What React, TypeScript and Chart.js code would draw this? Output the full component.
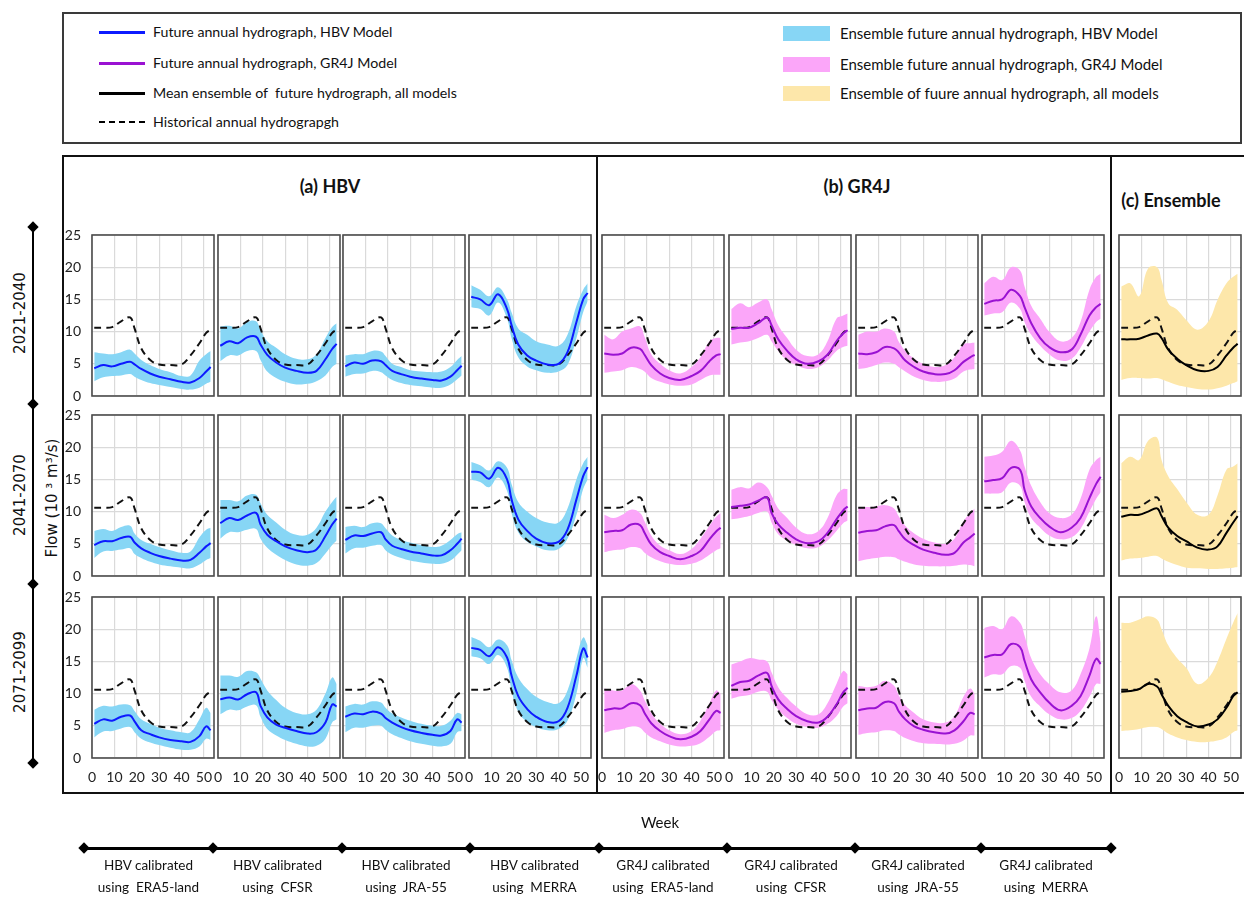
import React, { useEffect, useRef } from "react";
import { Chart, registerables } from "chart.js";
Chart.register(...registerables);

// ---------------- DATA ----------------
const WEEKS = [1, 5, 9, 13, 17, 19, 22, 26, 30, 35, 40, 44, 48, 51, 53];
const HISTORICAL = [10.6, 10.6, 10.7, 11.6, 12.2, 10.5, 7.4, 5.6, 4.9, 4.8, 4.9, 6.3, 8.2, 9.8, 10.3];
const X_TICKS = [0, 10, 20, 30, 40, 50];
const Y_TICKS = [0, 5, 10, 15, 20, 25];
const PERIODS = ["2021-2040", "2041-2070", "2071-2099"];
const GROUP_TITLES = ["(a) HBV", "(b) GR4J", "(c) Ensemble"];
const CALIB_LINE1 = ["HBV calibrated", "HBV calibrated", "HBV calibrated", "HBV calibrated", "GR4J calibrated", "GR4J calibrated", "GR4J calibrated", "GR4J calibrated"];
const CALIB_LINE2 = ["using  ERA5-land", "using  CFSR", "using  JRA-55", "using  MERRA", "using  ERA5-land", "using  CFSR", "using  JRA-55", "using  MERRA"];
const LEGEND_LINES = ["Future annual hydrograph, HBV Model", "Future annual hydrograph, GR4J Model", "Mean ensemble of  future hydrograph, all models", "Historical annual hydrograpgh"];
const LEGEND_BANDS = ["Ensemble future annual hydrograph, HBV Model", "Ensemble future annual hydrograph, GR4J Model", "Ensemble of fuure annual hydrograph, all models"];

// 2021-2040
const HBV_ERA5_1_MEAN = [4.3, 4.8, 4.6, 5.0, 5.3, 4.9, 4.2, 3.5, 3.0, 2.6, 2.2, 2.1, 2.8, 3.8, 4.5];
const HBV_ERA5_1_HI = [6.8, 6.6, 6.5, 6.8, 7.2, 6.6, 5.6, 4.8, 4.2, 3.7, 3.1, 3.2, 5.5, 6.5, 7.0];
const HBV_ERA5_1_LO = [2.3, 2.9, 3.1, 3.2, 3.4, 3.0, 2.5, 2.0, 1.7, 1.4, 1.1, 1.0, 1.3, 1.9, 2.2];
const HBV_CFSR_1_MEAN = [7.8, 8.5, 8.2, 9.1, 9.2, 8.0, 6.4, 5.2, 4.4, 3.9, 3.6, 3.9, 5.7, 7.3, 8.1];
const HBV_CFSR_1_HI = [10.8, 10.9, 10.5, 11.5, 11.6, 10.2, 8.5, 7.5, 6.5, 5.8, 5.7, 6.5, 9.0, 10.7, 11.3];
const HBV_CFSR_1_LO = [5.4, 6.3, 6.3, 7.0, 7.0, 5.6, 3.8, 2.8, 2.2, 1.8, 1.9, 2.3, 3.2, 4.5, 5.0];
const HBV_JRA_1_MEAN = [4.6, 5.2, 5.0, 5.5, 5.4, 4.8, 3.9, 3.4, 3.0, 2.7, 2.5, 2.4, 3.0, 4.0, 4.7];
const HBV_JRA_1_HI = [6.3, 6.5, 6.5, 7.0, 6.9, 6.2, 5.0, 4.5, 4.0, 3.8, 3.7, 3.8, 4.5, 5.6, 6.2];
const HBV_JRA_1_LO = [3.0, 3.4, 3.5, 3.9, 3.7, 3.2, 2.5, 2.0, 1.7, 1.5, 1.3, 1.3, 1.8, 2.6, 3.2];
const HBV_MERRA_1_MEAN = [15.4, 15.0, 14.1, 15.8, 13.5, 11.0, 8.0, 6.3, 5.5, 4.9, 5.0, 6.8, 11.5, 15.0, 16.0];
const HBV_MERRA_1_HI = [17.2, 16.5, 15.5, 16.9, 15.0, 13.0, 10.5, 9.5, 8.5, 8.0, 7.8, 9.5, 14.0, 16.5, 17.5];
const HBV_MERRA_1_LO = [13.8, 13.5, 12.5, 14.5, 12.0, 9.0, 6.0, 4.6, 4.0, 3.6, 3.8, 4.8, 9.0, 13.0, 14.7];
const GR4J_ERA5_1_MEAN = [6.6, 6.4, 6.6, 7.5, 7.3, 6.4, 4.8, 3.5, 2.8, 2.5, 3.1, 3.9, 5.4, 6.3, 6.5];
const GR4J_ERA5_1_HI = [9.5, 8.8, 10.0, 10.5, 10.8, 9.2, 6.5, 5.0, 4.0, 3.5, 4.5, 6.0, 8.5, 9.0, 9.0];
const GR4J_ERA5_1_LO = [3.6, 3.8, 4.0, 4.5, 4.2, 3.8, 2.8, 2.2, 1.8, 1.6, 1.8, 2.5, 3.2, 3.3, 3.3];
const GR4J_CFSR_1_MEAN = [10.4, 10.6, 10.6, 11.3, 12.2, 11.0, 8.8, 7.0, 5.7, 5.0, 5.4, 6.4, 8.5, 9.7, 10.2];
const GR4J_CFSR_1_HI = [13.5, 14.4, 13.8, 14.5, 15.0, 13.5, 11.0, 9.0, 7.2, 6.2, 6.5, 8.5, 12.0, 12.5, 12.8];
const GR4J_CFSR_1_LO = [8.0, 8.3, 8.5, 9.0, 9.5, 8.5, 7.0, 5.5, 4.8, 4.2, 4.5, 5.5, 7.0, 7.6, 7.8];
const GR4J_JRA_1_MEAN = [6.6, 6.5, 6.8, 7.6, 7.4, 6.8, 5.5, 4.5, 3.8, 3.4, 3.4, 4.0, 5.3, 6.0, 6.4];
const GR4J_JRA_1_HI = [9.5, 10.0, 10.0, 10.5, 10.0, 8.5, 7.0, 5.8, 5.0, 4.5, 4.8, 6.0, 8.0, 8.2, 8.3];
const GR4J_JRA_1_LO = [4.2, 4.4, 4.8, 5.2, 5.0, 4.5, 3.8, 3.0, 2.5, 2.2, 2.3, 2.7, 3.8, 4.1, 4.2];
const GR4J_MERRA_1_MEAN = [14.3, 14.8, 15.0, 16.5, 15.5, 13.8, 11.3, 9.0, 7.6, 6.8, 7.2, 9.5, 12.5, 13.8, 14.3];
const GR4J_MERRA_1_HI = [17.5, 18.5, 18.0, 20.0, 19.5, 17.0, 14.0, 12.0, 10.0, 8.5, 9.0, 11.5, 16.5, 18.5, 19.0];
const GR4J_MERRA_1_LO = [12.5, 12.8, 13.0, 14.5, 13.5, 11.5, 9.5, 7.8, 6.5, 5.5, 5.8, 7.5, 10.0, 11.5, 12.0];
const ENS_1_MEAN = [8.8, 8.8, 8.9, 9.4, 9.7, 9.0, 7.2, 5.8, 4.8, 4.0, 3.9, 4.5, 6.3, 7.5, 8.1];
const ENS_1_HI = [17.0, 17.5, 15.5, 19.8, 20.0, 18.0, 14.4, 13.4, 11.8, 10.3, 11.6, 14.9, 17.5, 18.5, 19.0];
const ENS_1_LO = [2.5, 2.8, 2.8, 2.7, 2.8, 2.6, 2.2, 1.7, 1.4, 1.1, 1.0, 1.2, 1.6, 2.0, 2.3];

// 2041-2070
const HBV_ERA5_2_MEAN = [4.8, 5.4, 5.4, 5.9, 6.1, 5.2, 4.3, 3.6, 3.1, 2.7, 2.4, 2.5, 3.6, 4.6, 5.1];
const HBV_ERA5_2_HI = [7.0, 7.3, 7.0, 7.6, 7.8, 6.6, 5.6, 5.0, 4.5, 4.0, 3.6, 3.8, 6.0, 7.2, 7.5];
const HBV_ERA5_2_LO = [2.8, 3.8, 3.9, 4.1, 4.3, 3.4, 2.8, 2.2, 1.8, 1.5, 1.3, 1.2, 1.8, 2.5, 2.8];
const HBV_CFSR_2_MEAN = [8.2, 9.0, 8.7, 9.4, 9.8, 8.0, 6.4, 5.4, 4.6, 4.0, 3.7, 4.1, 6.2, 8.0, 8.9];
const HBV_CFSR_2_HI = [11.8, 11.8, 11.6, 12.5, 12.6, 11.3, 9.5, 8.3, 7.2, 6.4, 6.4, 7.5, 10.0, 11.5, 12.3];
const HBV_CFSR_2_LO = [5.8, 6.8, 6.8, 7.2, 7.3, 5.8, 4.4, 3.3, 2.5, 1.8, 1.6, 2.0, 3.5, 4.8, 5.5];
const HBV_JRA_2_MEAN = [5.6, 6.3, 6.2, 6.6, 6.8, 5.7, 4.7, 4.2, 3.8, 3.5, 3.2, 3.2, 4.0, 5.0, 5.8];
const HBV_JRA_2_HI = [7.6, 7.8, 7.6, 8.2, 8.2, 7.4, 6.3, 5.6, 5.2, 4.8, 4.5, 4.7, 5.6, 6.5, 6.8];
const HBV_JRA_2_LO = [3.5, 4.3, 4.4, 4.7, 4.8, 4.0, 3.3, 2.8, 2.4, 2.1, 1.9, 1.9, 2.4, 3.3, 4.0];
const HBV_MERRA_2_MEAN = [16.2, 16.1, 15.1, 16.8, 15.0, 11.9, 8.8, 7.0, 5.8, 5.1, 5.3, 7.2, 11.9, 15.5, 16.9];
const HBV_MERRA_2_HI = [17.7, 17.2, 16.4, 17.8, 16.8, 14.3, 11.5, 10.0, 9.0, 8.3, 8.3, 10.5, 15.0, 17.5, 18.5];
const HBV_MERRA_2_LO = [15.0, 14.6, 13.8, 15.3, 13.2, 9.8, 6.8, 5.3, 4.6, 4.0, 4.2, 5.8, 9.5, 13.5, 15.0];
const GR4J_ERA5_2_MEAN = [6.8, 7.0, 7.1, 8.0, 7.9, 6.7, 4.9, 3.7, 3.1, 2.6, 3.1, 3.9, 5.7, 6.9, 7.5];
const GR4J_ERA5_2_HI = [9.5, 9.0, 9.5, 10.3, 9.8, 8.5, 6.3, 4.7, 4.0, 3.4, 4.2, 5.8, 7.8, 9.2, 9.8];
const GR4J_ERA5_2_LO = [3.7, 4.0, 4.1, 4.5, 4.3, 3.6, 2.9, 2.3, 1.9, 1.7, 1.9, 2.4, 3.3, 4.0, 4.3];
const GR4J_CFSR_2_MEAN = [10.7, 10.9, 11.1, 11.7, 12.2, 9.8, 8.0, 6.7, 5.7, 5.1, 5.4, 6.7, 8.8, 10.2, 10.8];
const GR4J_CFSR_2_HI = [13.4, 13.8, 13.6, 14.5, 13.8, 12.5, 10.5, 9.0, 7.5, 6.5, 7.0, 9.0, 12.5, 13.5, 13.5];
const GR4J_CFSR_2_LO = [8.8, 9.0, 9.3, 9.8, 10.0, 8.3, 6.5, 5.5, 4.8, 4.3, 4.5, 5.5, 7.0, 8.2, 8.6];
const GR4J_JRA_2_MEAN = [6.7, 7.0, 7.1, 7.7, 7.9, 7.0, 5.7, 4.8, 4.1, 3.6, 3.3, 3.6, 5.2, 6.0, 6.6];
const GR4J_JRA_2_HI = [10.7, 10.7, 10.8, 11.0, 10.5, 9.3, 7.8, 6.6, 5.8, 5.2, 5.0, 5.8, 8.5, 9.8, 10.5];
const GR4J_JRA_2_LO = [2.3, 2.6, 2.8, 3.0, 2.9, 2.6, 2.2, 1.8, 1.6, 1.5, 1.5, 1.6, 1.8, 1.7, 1.5];
const GR4J_MERRA_2_MEAN = [14.7, 14.9, 15.2, 16.8, 16.5, 13.4, 10.8, 9.0, 7.7, 6.8, 7.5, 9.0, 12.1, 14.3, 15.4];
const GR4J_MERRA_2_HI = [18.5, 18.7, 19.3, 21.0, 19.5, 17.0, 14.0, 11.5, 9.8, 9.0, 9.5, 12.0, 16.5, 18.0, 18.5];
const GR4J_MERRA_2_LO = [12.8, 12.8, 13.0, 14.5, 14.0, 11.5, 9.0, 7.5, 6.3, 5.7, 6.0, 7.3, 10.0, 12.0, 13.0];
const ENS_2_MEAN = [9.2, 9.5, 9.5, 10.0, 10.5, 9.3, 7.5, 6.2, 5.4, 4.4, 4.1, 4.6, 6.7, 8.3, 9.3];
const ENS_2_HI = [17.5, 18.5, 18.0, 21.0, 21.5, 18.0, 15.5, 13.5, 11.5, 9.5, 9.5, 12.5, 16.5, 17.0, 17.5];
const ENS_2_LO = [2.4, 2.7, 2.8, 3.0, 3.1, 2.7, 2.2, 1.7, 1.3, 1.2, 1.1, 1.1, 1.2, 1.3, 1.4];

// 2071-2099
const HBV_ERA5_3_MEAN = [5.3, 6.0, 5.8, 6.4, 6.6, 5.7, 4.3, 3.7, 3.2, 2.8, 2.6, 2.5, 3.4, 4.9, 4.3];
const HBV_ERA5_3_HI = [7.5, 8.1, 8.0, 8.3, 8.2, 7.3, 6.0, 5.3, 4.7, 4.3, 4.0, 4.0, 6.0, 7.8, 7.0];
const HBV_ERA5_3_LO = [3.2, 4.1, 4.2, 4.6, 4.8, 4.0, 3.0, 2.4, 2.0, 1.6, 1.3, 1.3, 1.8, 3.0, 2.8];
const HBV_CFSR_3_MEAN = [9.1, 9.4, 9.1, 9.9, 10.2, 8.1, 6.3, 5.2, 4.7, 4.2, 3.8, 4.0, 5.5, 8.3, 8.0];
const HBV_CFSR_3_HI = [12.8, 12.8, 12.6, 13.5, 13.3, 12.3, 10.5, 9.0, 7.8, 7.0, 6.8, 7.5, 10.0, 12.5, 11.5];
const HBV_CFSR_3_LO = [6.8, 7.5, 7.4, 8.0, 8.2, 6.4, 4.5, 3.5, 2.8, 2.2, 1.8, 1.9, 3.0, 5.5, 6.0];
const HBV_JRA_3_MEAN = [6.4, 6.9, 6.8, 7.2, 6.9, 6.2, 5.5, 4.8, 4.3, 3.9, 3.6, 3.5, 4.2, 6.0, 5.5];
const HBV_JRA_3_HI = [8.0, 8.4, 8.3, 8.8, 8.6, 7.8, 6.9, 6.3, 5.8, 5.3, 5.0, 5.0, 5.8, 7.0, 6.8];
const HBV_JRA_3_LO = [4.0, 4.7, 4.7, 5.0, 5.0, 4.4, 3.7, 3.1, 2.6, 2.2, 1.9, 1.8, 2.2, 4.0, 4.2];
const HBV_MERRA_3_MEAN = [17.1, 16.8, 15.8, 17.2, 15.6, 12.8, 9.6, 7.6, 6.4, 5.6, 5.7, 7.8, 12.8, 17.0, 15.6];
const HBV_MERRA_3_HI = [18.8, 18.2, 17.2, 18.4, 17.5, 15.2, 12.5, 10.7, 9.5, 8.7, 8.5, 10.5, 15.5, 18.7, 17.5];
const HBV_MERRA_3_LO = [15.8, 15.5, 14.6, 16.0, 14.0, 10.5, 7.2, 5.6, 4.8, 4.3, 4.5, 5.8, 10.0, 15.5, 14.0];
const GR4J_ERA5_3_MEAN = [7.4, 7.7, 7.7, 8.5, 8.2, 7.0, 5.4, 4.2, 3.4, 2.9, 3.3, 4.2, 6.0, 7.3, 7.0];
const GR4J_ERA5_3_HI = [10.8, 10.5, 10.5, 11.5, 10.5, 9.0, 7.0, 5.3, 4.3, 3.7, 4.2, 5.8, 8.5, 10.5, 10.0];
const GR4J_ERA5_3_LO = [3.9, 4.3, 4.5, 4.9, 4.7, 4.0, 3.2, 2.6, 2.1, 1.8, 1.9, 2.3, 3.3, 4.2, 4.3];
const GR4J_CFSR_3_MEAN = [11.2, 11.8, 12.0, 12.8, 13.2, 11.2, 9.1, 7.6, 6.5, 5.7, 5.5, 6.4, 8.3, 10.2, 10.9];
const GR4J_CFSR_3_HI = [14.5, 15.0, 15.5, 15.3, 15.0, 13.3, 11.0, 9.3, 8.0, 6.8, 6.8, 8.5, 11.5, 13.5, 13.0];
const GR4J_CFSR_3_LO = [9.2, 9.6, 9.8, 10.3, 10.3, 9.0, 7.5, 6.2, 5.3, 4.8, 4.7, 5.3, 6.5, 8.0, 8.5];
const GR4J_JRA_3_MEAN = [7.4, 7.7, 7.8, 8.7, 8.5, 7.3, 6.0, 4.9, 4.4, 4.0, 3.8, 4.3, 5.7, 7.0, 6.8];
const GR4J_JRA_3_HI = [11.2, 11.0, 11.2, 12.0, 11.2, 9.8, 8.2, 7.0, 6.0, 5.5, 5.5, 6.5, 9.5, 10.8, 10.0];
const GR4J_JRA_3_LO = [3.6, 3.9, 4.0, 4.3, 4.2, 3.7, 3.1, 2.6, 2.3, 2.2, 2.1, 2.2, 2.7, 3.5, 3.5];
const GR4J_MERRA_3_MEAN = [15.6, 16.0, 16.1, 17.7, 17.2, 15.1, 12.2, 10.2, 8.6, 7.4, 8.1, 9.6, 12.8, 15.4, 14.6];
const GR4J_MERRA_3_HI = [20.2, 20.5, 20.0, 22.0, 21.0, 19.0, 15.5, 13.0, 11.5, 10.2, 10.5, 13.0, 17.0, 22.0, 18.0];
const GR4J_MERRA_3_LO = [12.5, 13.0, 13.0, 14.3, 14.0, 12.0, 9.5, 8.0, 6.8, 6.0, 6.2, 7.3, 9.5, 11.5, 11.5];
const ENS_3_MEAN = [10.3, 10.4, 10.7, 11.5, 11.1, 9.9, 8.1, 6.5, 5.6, 4.9, 5.2, 6.0, 7.8, 9.6, 10.2];
const ENS_3_HI = [21.0, 21.0, 21.5, 22.0, 21.5, 20.0, 17.5, 15.5, 14.0, 11.5, 12.5, 15.0, 18.5, 21.0, 22.5];
const ENS_3_LO = [4.2, 4.3, 4.5, 4.8, 4.8, 4.5, 3.8, 3.2, 2.8, 2.5, 2.5, 2.7, 3.2, 4.0, 4.3];

// ---------------- STYLE / LAYOUT ----------------
const STYLE = {
  hbv: { line: "#0d1bff", band: "rgba(135,214,245,1)" },
  gr4j: { line: "#9a12d2", band: "rgba(251,166,249,1)" },
  ens: { line: "#000000", band: "rgba(253,231,170,1)" },
};
const COL_X = [92, 218, 343, 469, 602, 729, 856, 982, 1119];
const ROW_Y = [235, 415, 597];
const COL_W = 122;
const ROW_H = 161;
const PAD = { l: 22, r: 22, t: 22, b: 22 };
const Y_AXIS_W = 34;
const X_AXIS_H = 30;
const SANS = "Lato, 'Liberation Sans', sans-serif";
const DEJAVU = "'DejaVu Sans', Verdana, sans-serif";

type Kind = "hbv" | "gr4j" | "ens";
interface PanelSpec { kind: Kind; mean: number[]; hi: number[]; lo: number[] }

const ROWS: PanelSpec[][] = [
  [
    { kind: "hbv", mean: HBV_ERA5_1_MEAN, hi: HBV_ERA5_1_HI, lo: HBV_ERA5_1_LO },
    { kind: "hbv", mean: HBV_CFSR_1_MEAN, hi: HBV_CFSR_1_HI, lo: HBV_CFSR_1_LO },
    { kind: "hbv", mean: HBV_JRA_1_MEAN, hi: HBV_JRA_1_HI, lo: HBV_JRA_1_LO },
    { kind: "hbv", mean: HBV_MERRA_1_MEAN, hi: HBV_MERRA_1_HI, lo: HBV_MERRA_1_LO },
    { kind: "gr4j", mean: GR4J_ERA5_1_MEAN, hi: GR4J_ERA5_1_HI, lo: GR4J_ERA5_1_LO },
    { kind: "gr4j", mean: GR4J_CFSR_1_MEAN, hi: GR4J_CFSR_1_HI, lo: GR4J_CFSR_1_LO },
    { kind: "gr4j", mean: GR4J_JRA_1_MEAN, hi: GR4J_JRA_1_HI, lo: GR4J_JRA_1_LO },
    { kind: "gr4j", mean: GR4J_MERRA_1_MEAN, hi: GR4J_MERRA_1_HI, lo: GR4J_MERRA_1_LO },
    { kind: "ens", mean: ENS_1_MEAN, hi: ENS_1_HI, lo: ENS_1_LO },
  ],
  [
    { kind: "hbv", mean: HBV_ERA5_2_MEAN, hi: HBV_ERA5_2_HI, lo: HBV_ERA5_2_LO },
    { kind: "hbv", mean: HBV_CFSR_2_MEAN, hi: HBV_CFSR_2_HI, lo: HBV_CFSR_2_LO },
    { kind: "hbv", mean: HBV_JRA_2_MEAN, hi: HBV_JRA_2_HI, lo: HBV_JRA_2_LO },
    { kind: "hbv", mean: HBV_MERRA_2_MEAN, hi: HBV_MERRA_2_HI, lo: HBV_MERRA_2_LO },
    { kind: "gr4j", mean: GR4J_ERA5_2_MEAN, hi: GR4J_ERA5_2_HI, lo: GR4J_ERA5_2_LO },
    { kind: "gr4j", mean: GR4J_CFSR_2_MEAN, hi: GR4J_CFSR_2_HI, lo: GR4J_CFSR_2_LO },
    { kind: "gr4j", mean: GR4J_JRA_2_MEAN, hi: GR4J_JRA_2_HI, lo: GR4J_JRA_2_LO },
    { kind: "gr4j", mean: GR4J_MERRA_2_MEAN, hi: GR4J_MERRA_2_HI, lo: GR4J_MERRA_2_LO },
    { kind: "ens", mean: ENS_2_MEAN, hi: ENS_2_HI, lo: ENS_2_LO },
  ],
  [
    { kind: "hbv", mean: HBV_ERA5_3_MEAN, hi: HBV_ERA5_3_HI, lo: HBV_ERA5_3_LO },
    { kind: "hbv", mean: HBV_CFSR_3_MEAN, hi: HBV_CFSR_3_HI, lo: HBV_CFSR_3_LO },
    { kind: "hbv", mean: HBV_JRA_3_MEAN, hi: HBV_JRA_3_HI, lo: HBV_JRA_3_LO },
    { kind: "hbv", mean: HBV_MERRA_3_MEAN, hi: HBV_MERRA_3_HI, lo: HBV_MERRA_3_LO },
    { kind: "gr4j", mean: GR4J_ERA5_3_MEAN, hi: GR4J_ERA5_3_HI, lo: GR4J_ERA5_3_LO },
    { kind: "gr4j", mean: GR4J_CFSR_3_MEAN, hi: GR4J_CFSR_3_HI, lo: GR4J_CFSR_3_LO },
    { kind: "gr4j", mean: GR4J_JRA_3_MEAN, hi: GR4J_JRA_3_HI, lo: GR4J_JRA_3_LO },
    { kind: "gr4j", mean: GR4J_MERRA_3_MEAN, hi: GR4J_MERRA_3_HI, lo: GR4J_MERRA_3_LO },
    { kind: "ens", mean: ENS_3_MEAN, hi: ENS_3_HI, lo: ENS_3_LO },
  ],
];

const pts = (vals: number[]) => vals.map((v, i) => ({ x: WEEKS[i], y: v }));

const framePlugin = {
  id: "panelFrame",
  afterDraw(chart: any) {
    const { ctx, chartArea } = chart;
    ctx.save();
    ctx.strokeStyle = "#4d4d4d";
    ctx.lineWidth = 1.6;
    ctx.strokeRect(chartArea.left, chartArea.top, chartArea.right - chartArea.left, chartArea.bottom - chartArea.top);
    ctx.restore();
  },
};

function Panel({ row, col, spec }: { row: number; col: number; spec: PanelSpec }) {
  const ref = useRef<HTMLCanvasElement>(null);
  const firstCol = col === 0;
  const lastRow = row === ROWS.length - 1;
  const yW = firstCol ? Y_AXIS_W : 0;
  const xH = lastRow ? X_AXIS_H : 0;
  const width = PAD.l + yW + COL_W + PAD.r;
  const height = PAD.t + ROW_H + xH + PAD.b;
  const left = COL_X[col] - PAD.l - yW;
  const top = ROW_Y[row] - PAD.t;

  useEffect(() => {
    if (!ref.current) return;
    const st = STYLE[spec.kind];
    const chart = new Chart(ref.current, {
      type: "line",
      data: {
        datasets: [
          { label: "mean", data: pts(spec.mean), borderColor: st.line, borderWidth: 2, pointRadius: 0, tension: 0.4, fill: false },
          { label: "historical", data: pts(HISTORICAL), borderColor: "#111", borderWidth: 2, borderDash: [7, 5], pointRadius: 0, tension: 0.4, fill: false },
          { label: "hi", data: pts(spec.hi), borderWidth: 0, borderColor: "rgba(0,0,0,0)", backgroundColor: st.band, pointRadius: 0, tension: 0.4, fill: "+1" },
          { label: "lo", data: pts(spec.lo), borderWidth: 0, borderColor: "rgba(0,0,0,0)", pointRadius: 0, tension: 0.4, fill: false },
        ],
      },
      options: {
        responsive: false,
        maintainAspectRatio: false,
        animation: false,
        devicePixelRatio: 1,
        layout: { padding: { left: PAD.l, right: PAD.r, top: PAD.t, bottom: PAD.b } },
        plugins: { legend: { display: false }, tooltip: { enabled: false } },
        scales: {
          x: {
            type: "linear",
            min: 0,
            max: 54.5,
            afterBuildTicks: (s: any) => { s.ticks = X_TICKS.map((v) => ({ value: v })); },
            afterFit: (s: any) => { s.height = xH; },
            grid: { color: "#dadada", lineWidth: 1.2, drawTicks: false },
            border: { display: false },
            ticks: { display: lastRow, padding: 11, color: "#222", font: { family: SANS, size: 14 }, maxRotation: 0, autoSkip: false },
          },
          y: {
            type: "linear",
            min: 0,
            max: 25,
            afterBuildTicks: (s: any) => { s.ticks = Y_TICKS.map((v) => ({ value: v })); },
            afterFit: (s: any) => { s.width = yW; },
            grid: { color: "#dadada", lineWidth: 1.2, drawTicks: false },
            border: { display: false },
            ticks: { display: firstCol, padding: 11, color: "#222", font: { family: SANS, size: 14 } },
          },
        },
      },
      plugins: [framePlugin],
    } as any);
    return () => chart.destroy();
  }, []);

  return <canvas ref={ref} width={width} height={height} style={{ position: "absolute", left, top, width, height }} />;
}

const abs = (o: React.CSSProperties): React.CSSProperties => ({ position: "absolute", ...o });

function Diamond({ x, y }: { x: number; y: number }) {
  return <div style={abs({ left: x - 4, top: y - 4, width: 8, height: 8, background: "#000", transform: "rotate(45deg)" })} />;
}

function Txt({ x, y, children, size = 15, bold = false, family = SANS, align = "center", rotate = false }: any) {
  const tr = align === "center" ? "translate(-50%,-50%)" : "translate(0,-50%)";
  return (
    <div style={abs({ left: x, top: y, transform: tr + (rotate ? " rotate(-90deg)" : ""), fontFamily: family, fontSize: size, fontWeight: bold ? 700 : 400, whiteSpace: "pre", lineHeight: 1, color: "#111" })}>
      {children}
    </div>
  );
}

const LEGEND_LINE_Y = [32, 63, 93, 122];
const LEGEND_BAND_Y = [33, 64, 93];
const BOTTOM_MARKS = [84, 213, 342, 470, 599, 727, 855, 981, 1111];

export default function App() {
  const legendColors = [STYLE.hbv.line, STYLE.gr4j.line, "#000"];
  const bandColors = [STYLE.hbv.band, STYLE.gr4j.band, STYLE.ens.band];
  return (
    <div style={abs({ left: 0, top: 0, width: 1244, height: 899, background: "#fff", overflow: "hidden" })}>
      {/* Legend box */}
      <div style={abs({ left: 62, top: 12, width: 1176, height: 128, border: "2px solid #3a3a3a" })} />
      {LEGEND_LINES.map((t, i) => (
        <React.Fragment key={"ll" + i}>
          {i < 3 ? (
            <div style={abs({ left: 99, top: LEGEND_LINE_Y[i] - 1, width: 46, height: 2.5, background: legendColors[i] })} />
          ) : (
            <div style={abs({ left: 99, top: LEGEND_LINE_Y[i] - 1, width: 46, height: 0, borderTop: "2.5px dashed #000" })} />
          )}
          <Txt x={153} y={LEGEND_LINE_Y[i]} align="left" size={14.2}>{t}</Txt>
        </React.Fragment>
      ))}
      {LEGEND_BANDS.map((t, i) => (
        <React.Fragment key={"lb" + i}>
          <div style={abs({ left: 783, top: LEGEND_BAND_Y[i] - 7, width: 47, height: 15, background: bandColors[i] })} />
          <Txt x={840} y={LEGEND_BAND_Y[i]} align="left" size={15}>{t}</Txt>
        </React.Fragment>
      ))}

      {/* Main frame */}
      <div style={abs({ left: 62, top: 155, width: 1190, height: 635, borderTop: "2px solid #111", borderLeft: "2px solid #111", borderBottom: "2px solid #111" })} />
      <div style={abs({ left: 596, top: 155, width: 2, height: 637, background: "#111" })} />
      <div style={abs({ left: 1110, top: 155, width: 2, height: 637, background: "#111" })} />

      <Txt x={330} y={186} size={18} bold>{GROUP_TITLES[0]}</Txt>
      <Txt x={857} y={186} size={18} bold>{GROUP_TITLES[1]}</Txt>
      <Txt x={1171} y={200} size={18} bold>{GROUP_TITLES[2]}</Txt>

      {/* Period bracket */}
      <div style={abs({ left: 32, top: 227, width: 2, height: 536, background: "#000" })} />
      {[227, 404, 584, 763].map((y) => <Diamond key={"pd" + y} x={33} y={y} />)}
      {PERIODS.map((p, i) => (
        <Txt key={p} x={20} y={[313, 495, 672][i]} size={15} family={DEJAVU} rotate>{p}</Txt>
      ))}
      <Txt x={52} y={498} size={15} family={DEJAVU} rotate>Flow (10 ³ m³/s)</Txt>

      {ROWS.map((r, ri) => r.map((spec, ci) => <Panel key={ri + "-" + ci} row={ri} col={ci} spec={spec} />))}

      {/* Bottom axis annotation */}
      <Txt x={660} y={822} size={15}>Week</Txt>
      <div style={abs({ left: 84, top: 847, width: 1027, height: 2.5, background: "#000" })} />
      {BOTTOM_MARKS.map((x) => <Diamond key={"bm" + x} x={x} y={848} />)}
      {CALIB_LINE1.map((t, i) => {
        const cx = (BOTTOM_MARKS[i] + BOTTOM_MARKS[i + 1]) / 2;
        return (
          <React.Fragment key={"cl" + i}>
            <Txt x={cx} y={866} size={13.5}>{t}</Txt>
            <Txt x={cx} y={888} size={13.5}>{CALIB_LINE2[i]}</Txt>
          </React.Fragment>
        );
      })}
    </div>
  );
}
